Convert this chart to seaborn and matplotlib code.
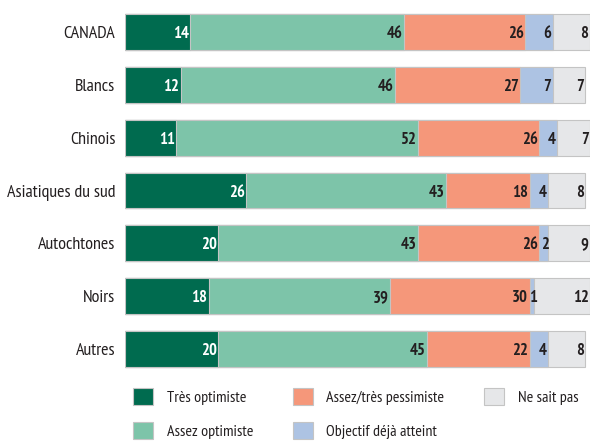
import matplotlib
matplotlib.use("Agg")
import matplotlib.pyplot as plt
import seaborn as sns
import pandas as pd
from matplotlib.patches import Patch

groups = ["CANADA", "Blancs", "Chinois", "Asiatiques du sud", "Autochtones", "Noirs", "Autres"]
tres_optimiste = [14, 12, 11, 26, 20, 18, 20]
assez_optimiste = [46, 46, 52, 43, 43, 39, 45]
pessimiste = [26, 27, 26, 18, 26, 30, 22]
deja_atteint = [6, 7, 4, 4, 2, 1, 4]
ne_sait_pas = [8, 7, 7, 8, 9, 12, 8]

series_names = ["Très optimiste", "Assez optimiste", "Assez/très pessimiste",
                "Objectif déjà atteint", "Ne sait pas"]
colors = ["#006b4f", "#7dc4a9", "#f5977a", "#adc3e3", "#e6e7e9"]
text_colors = ["white", "#231f20", "#231f20", "#231f20", "#231f20"]

sns.set_theme(style="white")
plt.rcParams["font.family"] = ["PT Sans Narrow", "DejaVu Sans"]

df = pd.DataFrame({
    "group": groups,
    series_names[0]: tres_optimiste,
    series_names[1]: assez_optimiste,
    series_names[2]: pessimiste,
    series_names[3]: deja_atteint,
    series_names[4]: ne_sait_pas,
})
values = df[series_names].to_numpy()
cum = values.cumsum(axis=1)

fig = plt.figure(figsize=(5.9, 4.41), dpi=100)
ax = fig.add_axes([0.212, 0.1485, 0.788, 0.839])

# overlay cumulative bars, widest first
for k in range(len(series_names) - 1, -1, -1):
    sns.barplot(x=cum[:, k], y=df["group"], color=colors[k], orient="h",
                width=0.68, saturation=1, edgecolor="#c4c4c4", linewidth=0.8, ax=ax)

# value labels, right-aligned inside each segment
for i in range(len(groups)):
    for k in range(len(series_names)):
        v = values[i, k]
        if v < 3:
            x, ha = cum[i, k] - v / 2 + 0.3, "center"
        else:
            x, ha = cum[i, k] - 0.3, "right"
        ax.text(x, i + 0.04, str(v), ha=ha, va="center",
                fontsize=12, fontweight="bold", color=text_colors[k])

ax.set_xlim(0, 100)
ax.set_xlabel("")
ax.set_ylabel("")
ax.set_xticks([])
ax.tick_params(axis="y", length=0, pad=7, labelsize=13, labelcolor="#231f20")
for s in ax.spines.values():
    s.set_visible(False)

handles = [Patch(facecolor=c, edgecolor="#c4c4c4", linewidth=0.8) for c in colors]
fig.legend(handles, series_names, ncol=3, loc="upper left",
           bbox_to_anchor=(133 / 590, 1 - 388 / 441), frameon=False, fontsize=11.5,
           borderpad=0, borderaxespad=0,
           handlelength=1.25, handleheight=1.25, handletextpad=0.85,
           columnspacing=2.5, labelspacing=1.1, labelcolor="#231f20")

fig.savefig("out.png", dpi=100)
